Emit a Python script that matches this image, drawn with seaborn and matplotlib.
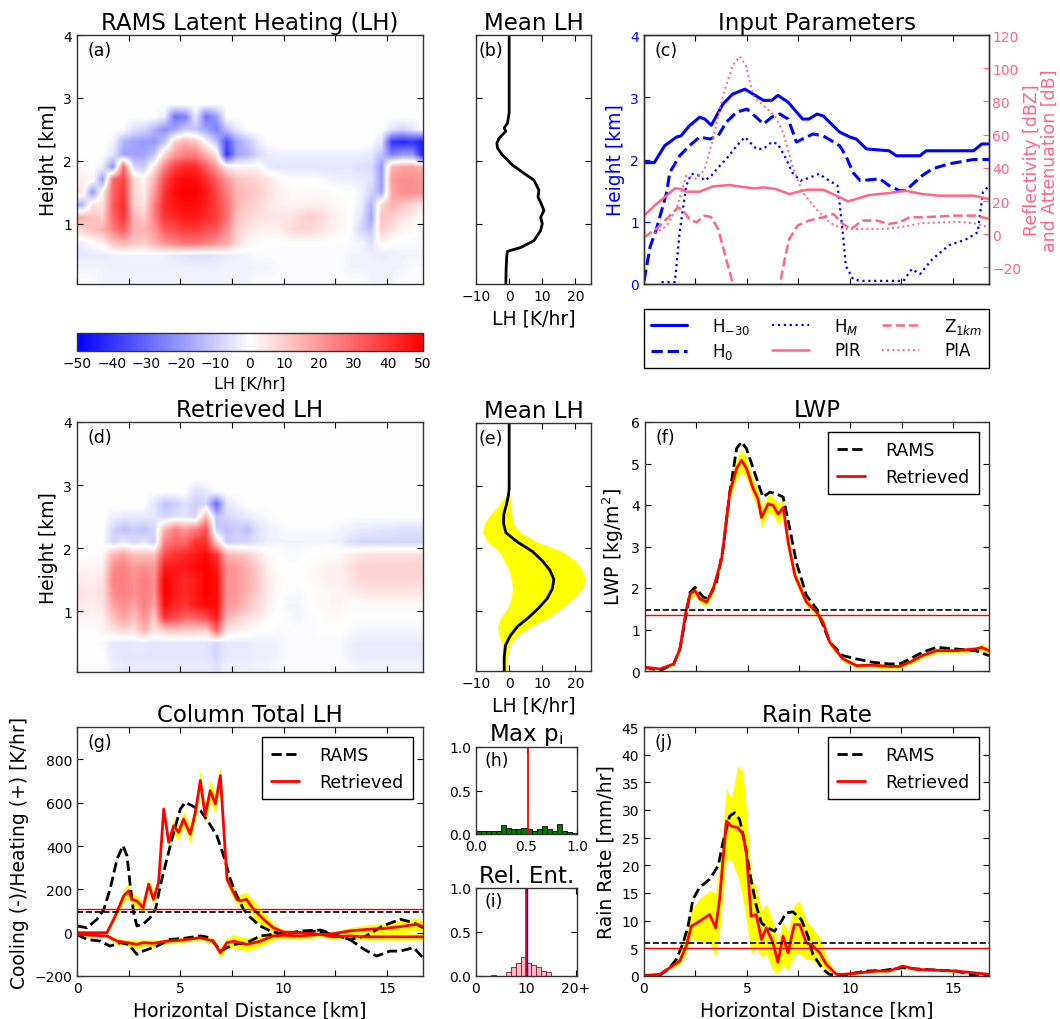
import numpy as np
import matplotlib
matplotlib.use("Agg")
import matplotlib.pyplot as plt
import seaborn as sns

# ---------------- data ----------------
X_MAX = 16.75
# latent heating fields [K/hr]; rows = 0.2 km layers from 0 km up to 3 km, columns = 0.5 km bins
lh_rams_rows = [
    [-1,-1,-2,-2,-2,-2,-2,-2,-2,-2, -2,-2,-2,-2,-2,-2,-2,-1,-1,-1, -1,-1,-1,-1,-1,-1,-1,-1,-2,-2, -2,-1,-1,-1],
    [-2,-2,-2,-3,-3,-3,-3,-3,-3,-3, -3,-3,-3,-3,-2,-2,-2,-2,-2,-1, -1,-1,-1,-1,-1,-1,-2,-2,-2,-2, -2,-2,-1,-1],
    [-4,-4,-4,-3,-3,-2,-2,-2,-3,-4, -5,-6,-6,-5,-4,-3,-2,-1,-1,-1, -1,-1,-1,-1,-1,-1,-2,-2,-3,-4, -3,-2,-2,-2],
    [-3,0,3,12,15,12,10,15,22,25, 28,28,25,22,18,8,2,1,0,0, 0,0,0,0,0,0,-1,-2,-6,2, 0,-1,-1,-1],
    [8,12,15,25,32,15,15,20,32,35, 38,38,35,32,22,10,5,3,3,3, 6,8,8,6,3,2,0,-8,-12,10, 5,2,1,0],
    [15,12,10,30,40,15,10,25,40,42, 45,45,42,38,28,12,8,6,5,5, 5,8,10,8,4,2,0,-5,-18,12, 10,5,3,0],
    [-15,5,5,32,42,10,5,25,42,46, 48,48,44,38,28,15,10,8,5,3, 2,2,3,3,2,1,0,-3,-15,8, 15,12,8,4],
    [5,-20,3,30,40,8,3,20,40,48, 50,50,45,36,25,15,12,10,6,3, 2,1,1,1,1,0,0,-2,-8,-18, 18,22,22,20],
    [3,2,-20,30,38,8,2,15,36,46, 48,48,42,32,20,12,10,8,5,2, 0,0,0,-1,-2,-3,-3,-4,-5,-20, 20,22,22,20],
    [2,0,-3,-22,30,-8,-10,5,25,38, 42,42,32,20,5,2,2,2,-4,-5, -5,-5,-5,-5,-5,-5,-5,-6,-7,-20, 15,18,18,15],
    [0,0,0,-5,-18,-18,-18,-12,8,20, 25,25,15,5,-40,-18,-15,-8,-4,-3, -3,-3,-3,-3,-3,-3,-3,-3,-4,-12, -25,-20,-20,-45],
    [0,0,0,-2,-15,-18,-20,-20,-12,10, 15,12,0,-12,-35,-18,-12,-4,0,0, 0,0,0,0,0,0,0,0,0,-5, -40,-42,-40,-45],
    [0,0,0,0,0,-6,-8,-15,-22,-18, -10,-12,-18,-25,-12,-4,0,0,0,0, 0,0,0,0,0,0,0,0,0,0, -5,-8,-5,0],
    [0,0,0,0,0,0,0,0,-4,-28, -25,-4,-28,-20,0,0,0,0,0,0, 0,0,0,0,0,0,0,0,0,0, 0,0,0,0],
    [0,0,0,0,0,0,0,0,0,0, 0,0,0,0,0,0,0,0,0,0, 0,0,0,0,0,0,0,0,0,0, 0,0,0,0],
]
lh_ret_rows = [
    [0,0,0,-3,-4,-4,-4,-4,-4,-4, -4,-4,-4,-6,-3,-3,-3,-2,-2,-1, -1,-1,-1,-1,-1,-1,-1,-2,-2,-2, -2,-2,-2,-2],
    [0,0,0,-4,-5,-5,-5,-5,-5,-5, -5,-5,-5,-8,-4,-4,-4,-3,-3,-2, -1,-1,-1,-1,-1,-1,-3,-4,-4,-4, -4,-4,-4,-4],
    [0,0,-1,-4,-5,-4,-4,-5,-5,-5, -5,-5,-5,-8,-4,-4,-4,-3,-3,-2, -1,-1,-1,-1,-1,-1,-3,-4,-4,-4, -4,-4,-4,-4],
    [0,0,2,5,8,6,15,5,10,12, 10,10,8,30,5,3,2,0,0,-1, -1,-1,-1,0,0,0,-1,-2,-2,-2, -2,-2,-2,-2],
    [2,2,3,12,18,12,22,10,40,35, 30,30,35,45,15,10,6,4,1,0, -1,-2,-1,0,1,1,0,0,0,0, 0,0,0,0],
    [4,3,5,18,22,18,25,18,48,42, 40,45,48,48,20,18,12,8,3,0, -2,-2,0,1,2,2,1,1,1,1, 1,1,1,1],
    [5,4,6,22,25,22,25,22,50,45, 42,45,50,48,22,20,15,10,4,1, -1,-1,0,1,2,2,3,4,5,5, 5,5,5,5],
    [4,3,5,25,25,22,25,22,50,45, 42,45,50,48,22,20,16,10,4,1, 0,0,1,2,3,3,5,8,8,8, 8,8,8,8],
    [2,2,3,22,25,20,22,20,45,45, 45,48,50,45,22,20,15,10,3,0, 0,0,1,2,3,3,6,9,9,9, 9,9,9,9],
    [0,0,1,15,18,12,12,12,35,40, 42,45,48,40,15,12,10,5,1,0, -1,-1,0,0,1,1,3,5,6,6, 6,6,6,6],
    [0,0,0,-8,-5,-8,-5,-10,25,30, 30,40,40,10,-10,-8,-8,-5,-3,-2, -2,-2,-2,-2,-2,-3,-6,-8,-8,-8, -8,-8,-8,-8],
    [0,0,0,-8,-12,-10,-12,-8,15,25, 20,25,35,-10,-12,-10,-12,-6,-3,-2, -1,-1,-1,-1,-1,-2,-3,-4,-4,-5, -5,-6,-6,-6],
    [0,0,0,-3,-4,-4,-4,-5,-8,-6, -5,-8,15,-12,-8,-6,-4,-2,-1,0, 0,0,0,0,0,0,0,0,0,0, 0,0,0,0],
    [0,0,0,0,0,0,0,-5,-12,-10, -6,-10,-8,-30,-5,-2,0,0,0,0, 0,0,0,0,0,0,0,0,0,0, 0,0,0,0],
    [0,0,0,0,0,0,0,0,0,0, 0,-6,-4,0,0,0,0,0,0,0, 0,0,0,0,0,0,0,0,0,0, 0,0,0,0],
]

# (b) mean RAMS LH profile
mean_b_h = [0.03, 0.30, 0.49, 0.56, 0.62, 0.73, 0.89, 1.0, 1.1, 1.21, 1.34, 1.42, 1.53, 1.69, 1.8,
            1.93, 2.09, 2.2, 2.28, 2.36, 2.47, 2.52, 2.6, 2.76, 4.0]
mean_b_v = [-1.0, -0.9, -0.7, -0.5, 3.5, 7.5, 9.5, 10.0, 9.5, 10.5, 9.5, 8.7, 9.0, 7.5, 4.5,
            1.0, -2.0, -3.5, -3.7, -3.0, -1.0, -1.5, -0.5, 0.0, 0.0]

# (e) mean retrieved LH profile with spread
mean_e_h = [0.05, 0.25, 0.45, 0.6, 0.75, 0.9, 1.05, 1.2, 1.35, 1.5, 1.65, 1.8, 1.95, 2.1, 2.25,
            2.4, 2.55, 2.7, 2.85, 2.95, 4.0]
mean_e_v = [-1.5, -1.5, -1.1, 0.3, 2.5, 6, 9, 11.5, 13, 13.5, 12.3, 10, 7, 2.5, -1.0,
            -1.7, -1.6, -0.8, -0.2, 0, 0]
mean_e_lo = [-2, -2, -2, -3, -3.5, -2.5, -0.3, 0.6, 1, 0.7, 0, -1.5, -3, -6.5, -8,
             -7.5, -5.5, -3, -0.8, 0, 0]
mean_e_hi = [-0.5, -0.5, 0, 2.5, 6.5, 12, 16, 19.5, 22, 23, 22, 20, 16, 8.5, 3.5,
             1.2, 0.8, 0.5, 0.2, 0, 0]

# (c) input parameters
h30_x = [0, 0.5, 1.0, 1.57, 1.8, 2.2, 2.7, 2.95, 3.27, 3.83, 4.3, 4.9, 5.3, 5.8, 6.2, 6.5, 7.0, 7.7, 8.0,
         8.4, 8.7, 9.5, 10.0, 10.3, 10.8, 11.9, 12.25, 13.4, 13.7, 16.0, 16.4, 16.75]
h30_y = [1.95, 1.95, 2.22, 2.36, 2.38, 2.54, 2.68, 2.65, 2.55, 2.89, 3.05, 3.13, 3.05, 2.95, 2.95, 3.03,
         2.92, 2.65, 2.65, 2.73, 2.70, 2.44, 2.36, 2.33, 2.17, 2.14, 2.06, 2.06, 2.14, 2.14, 2.25, 2.25]
h0_x = [0, 0.3, 0.6, 1.1, 1.25, 1.73, 2.2, 2.7, 3.2, 3.6, 4.0, 4.5, 5.0, 5.45, 5.8, 6.2, 6.6, 7.0, 7.4,
        7.7, 8.2, 8.7, 9.5, 9.8, 10.15, 10.5, 11.45, 11.9, 12.4, 12.7, 13.5, 14.0, 14.8, 16.0, 16.75]
h0_y = [0.05, 0.6, 0.88, 1.47, 1.79, 2.06, 2.22, 2.36, 2.33, 2.38, 2.6, 2.76, 2.81, 2.68, 2.57, 2.68, 2.73,
        2.65, 2.28, 2.33, 2.41, 2.38, 2.22, 2.06, 1.79, 1.66, 1.69, 1.58, 1.5, 1.5, 1.74, 1.85, 1.93, 2.0, 2.0]
hm_x = [0.85, 1.5, 1.73, 2.05, 2.3, 2.7, 2.95, 3.27, 3.6, 4.0, 4.5, 4.9, 5.45, 5.8, 6.2, 6.5, 6.9, 7.2,
        7.6, 7.9, 8.5, 8.85, 9.4, 9.65, 9.8, 10.15, 10.5, 12.6, 13.0, 13.4, 14.0, 14.8, 15.65, 16.2, 16.45, 16.75]
hm_y = [0.03, 0.03, 0.83, 1.58, 1.77, 1.74, 1.66, 1.74, 1.87, 2.01, 2.22, 2.36, 2.17, 2.17, 2.28, 2.25,
        2.01, 1.79, 1.66, 1.69, 1.77, 1.69, 1.58, 0.83, 0.29, 0.08, 0.05, 0.05, 0.24, 0.16, 0.4, 0.62,
        0.72, 0.83, 1.47, 1.58]
pir_x = [0, 0.6, 1.1, 1.5, 1.8, 2.05, 2.7, 3.35, 4.15, 5.3, 5.8, 6.4, 7.05, 7.9, 8.7, 9.35, 9.9, 10.3,
         10.95, 11.9, 12.7, 13.5, 14.35, 16.0, 16.75]
pir_y = [11.2, 18.2, 23.2, 27.6, 27.2, 25.6, 25.6, 28.8, 29.6, 27.6, 28.2, 27.2, 24.2, 26.8, 26.8, 23.2,
         19.8, 21.2, 23.6, 24.8, 26.2, 24.2, 23.2, 23.2, 21.2]
z1_x = [0, 0.6, 1.1, 1.65, 1.9, 2.2, 2.55, 2.95, 3.27, 3.6, 3.9, 4.25, 4.6, 6.3, 6.6, 6.8, 7.05, 7.45,
        8.0, 8.7, 9.2, 9.65, 10.05, 10.6, 11.3, 11.9, 12.4, 12.9, 13.5, 15.15, 16.1, 16.75]
z1_y = [-1.9, 3.1, 9.2, 16.2, 14.2, 9.2, 7.1, 11.2, 10.2, 3.1, -10.9, -27.0, -50, -50, -30, -17, -2.9,
        5.1, 8.2, 10.2, 12.2, 6.2, 3.1, 8.2, 8.2, 6.2, 7.2, 10.2, 10.2, 11.2, 11.2, 9.2]
pia_x = [0, 0.6, 1.1, 1.57, 2.05, 2.55, 2.95, 3.35, 3.83, 4.3, 4.65, 4.95, 5.3, 5.8, 6.35, 6.75, 7.25,
         7.7, 8.35, 9.0, 9.65, 10.8, 11.6, 12.4, 13.5, 15.15, 16.0, 16.75]
pia_y = [1.0, 1.0, 5.1, 15.2, 35.3, 33.3, 39.3, 57.3, 83.5, 101.5, 107.1, 101.5, 83.5, 77.4, 71.4, 61.4,
         39.3, 25.2, 15.2, 7.1, 3.1, 3.1, 3.1, 4.1, 6.7, 7.5, 6.7, 4.1]

# (f) LWP [kg/m2]
lwp_rams_x = [0, 0.73, 1.4, 1.7, 2.2, 2.43, 2.84, 3.08, 3.48, 3.8, 4.13, 4.46, 4.7, 4.94, 5.27, 5.6, 5.75,
              6.08, 6.4, 6.73, 7.05, 7.37, 7.86, 8.35, 9.0, 9.64, 10.3, 11.1, 11.9, 12.4, 12.9, 13.5,
              14.2, 15.15, 16.1, 16.75]
lwp_rams = [0.09, 0.01, 0.17, 0.53, 1.9, 2.02, 1.78, 1.74, 2.14, 2.94, 4.31, 5.36, 5.52, 5.36, 4.88, 4.39,
            4.19, 4.31, 4.27, 4.19, 3.43, 2.62, 1.82, 1.5, 0.69, 0.37, 0.29, 0.21, 0.17, 0.17, 0.29, 0.45,
            0.57, 0.53, 0.49, 0.37]
lwp_ret_x = [0, 0.73, 1.4, 1.7, 2.0, 2.2, 2.43, 2.67, 3.0, 3.32, 3.73, 4.13, 4.46, 4.7, 4.94, 5.27, 5.5,
             5.67, 6.0, 6.24, 6.48, 6.73, 6.97, 7.3, 7.86, 8.35, 8.67, 9.0, 9.64, 10.3, 11.1, 11.9, 12.4,
             13.05, 13.5, 14.2, 15.15, 16.1, 16.4, 16.75]
lwp_ret = [0.09, 0.05, 0.17, 0.53, 1.46, 1.86, 1.94, 1.74, 1.66, 1.98, 2.7, 4.31, 4.88, 5.08, 4.88, 4.39,
           4.15, 3.7, 4.03, 3.99, 3.78, 3.94, 3.1, 2.3, 1.66, 1.42, 1.17, 0.69, 0.29, 0.13, 0.14, 0.11,
           0.11, 0.25, 0.37, 0.49, 0.49, 0.53, 0.57, 0.49]
lwp_spread = [0.03, 0.03, 0.04, 0.06, 0.1, 0.1, 0.12, 0.1, 0.1, 0.12, 0.15, 0.2, 0.25, 0.28, 0.25, 0.22,
              0.25, 0.25, 0.22, 0.22, 0.25, 0.22, 0.2, 0.15, 0.1, 0.1, 0.1, 0.08, 0.06, 0.06, 0.06, 0.06,
              0.06, 0.06, 0.06, 0.06, 0.06, 0.06, 0.08, 0.08]
lwp_mean_rams, lwp_mean_ret = 1.47, 1.35

# (g) column total LH [K/hr]
g_rams_pos_x = [0, 0.48, 0.97, 1.3, 1.6, 1.94, 2.23, 2.42, 2.58, 2.74, 2.9, 3.2, 3.55, 3.8, 4.03, 4.35,
                4.68, 5.0, 5.24, 5.56, 5.97, 6.37, 6.77, 7.1, 7.42, 7.74, 8.06, 8.4, 8.87, 9.35, 10.0,
                10.8, 11.8, 12.4, 13.2, 14.0, 14.8, 15.65, 16.3, 16.75]
g_rams_pos = [31, 23, 62, 108, 201, 340, 402, 355, 216, 93, 31, 39, 70, 108, 216, 340, 463, 571, 602, 587,
              564, 510, 448, 355, 247, 170, 108, 70, 31, 8, -8, 8, 12, -8, -31, -15, 31, 62, 46, 23]
g_ret_pos_x = [0, 1.45, 1.85, 2.26, 2.5, 2.66, 2.9, 3.2, 3.47, 3.7, 3.95, 4.2, 4.44, 4.68, 4.92, 5.16,
               5.48, 5.73, 5.97, 6.2, 6.45, 6.7, 6.94, 7.26, 7.74, 7.9, 8.2, 8.55, 9.03, 9.5, 10.0, 10.8,
               11.8, 12.4, 13.2, 14.0, 14.8, 15.65, 16.45, 16.75]
g_ret_pos = [0, 0, 77, 170, 193, 154, 147, 116, 224, 154, 232, 571, 417, 494, 463, 525, 455, 556, 703, 541,
             656, 595, 726, 247, 154, 147, 154, 108, 62, 23, 3, 0, -8, -5, 8, 15, 19, 28, 39, 28]
g_ret_pos_spread = [5, 5, 15, 30, 35, 30, 25, 25, 30, 30, 30, 20, 25, 40, 35, 35, 40, 40, 50, 40,
                    50, 45, 40, 30, 25, 30, 35, 40, 35, 20, 10, 10, 10, 10, 15, 20, 25, 30, 30, 25]
g_rams_neg_x = [0, 0.48, 1.13, 1.6, 2.1, 2.5, 2.9, 3.2, 3.87, 4.5, 5.16, 5.97, 6.45, 6.94, 7.58, 8.23,
                8.87, 9.5, 10.0, 10.8, 11.6, 12.4, 13.2, 13.9, 14.5, 15.15, 15.65, 16.3, 16.75]
g_rams_neg = [-8, -31, -39, -62, -46, -54, -100, -85, -62, -31, -26, -15, -23, -85, -54, -46, -15, -8, 0,
              0, 8, -8, -31, -77, -108, -85, -85, -69, -116]
g_ret_neg_x = [0, 1.45, 1.94, 2.42, 2.9, 3.2, 3.7, 4.35, 5.0, 5.97, 6.6, 6.94, 7.26, 7.58, 8.23, 8.87,
               9.5, 10.0, 10.8, 11.8, 12.4, 13.2, 14.0, 15.65, 16.75]
g_ret_neg = [-8, -15, -39, -46, -54, -46, -49, -39, -35, -23, -39, -93, -46, -39, -54, -39, -15, -12, -15,
             -8, -19, -15, -19, -19, -19]
g_ret_neg_spread = [5, 8, 15, 15, 20, 15, 15, 12, 12, 10, 15, 20, 25, 30, 30, 25, 20, 15, 15, 12,
                    12, 15, 15, 15, 15]
g_mean_rams, g_mean_ret = 96, 108

# (h) histogram of max p_i
maxp_edges = [i * 0.05 for i in range(21)]
maxp_freq = [0.03, 0.03, 0.03, 0.04, 0.04, 0.10, 0.07, 0.06, 0.06, 0.065, 0.06, 0.04, 0.06, 0.09, 0.06,
             0.04, 0.12, 0.04, 0.02, 0.01]
maxp_mean = 0.515

# (i) histogram of relative entropy
relent_edges = list(range(21))
relent_freq = [0.005, 0.005, 0, 0.015, 0, 0, 0.04, 0.1, 0.15, 0.22, 0.15, 0.13, 0.1, 0.06, 0.04, 0.005,
               0, 0, 0, 0]
relent_mean_a, relent_mean_b = 10.0, 10.2

# (j) rain rate [mm/hr]
rr_rams_x = [0, 0.6, 0.84, 1.25, 1.57, 1.9, 2.14, 2.38, 2.7, 3.19, 3.6, 3.83, 4.16, 4.4, 4.64, 4.89,
             5.13, 5.45, 5.7, 6.0, 6.34, 6.67, 6.9, 7.23, 7.64, 7.96, 8.2, 8.69, 9.0, 9.66, 10.3, 10.8,
             11.6, 12.57, 13.5, 15.15, 16.1, 16.75]
rr_rams = [0.1, 0.1, 0.3, 1.5, 3.0, 6.0, 9.0, 13.9, 16.0, 17.5, 19.9, 24.1, 28.9, 29.5, 28.3, 24.1, 18.7,
           12.7, 9.6, 8.7, 8.1, 9.9, 11.4, 11.6, 10.2, 7.2, 3.9, 1.2, 0.3, 0.1, 0.6, 0.9, 1.0, 1.5, 1.2,
           0.9, 0.05, 0.0]
rr_ret_x = [0, 0.76, 1.25, 1.73, 2.05, 2.3, 2.7, 3.19, 3.48, 3.67, 4.0, 4.24, 4.56, 4.8, 4.97, 5.2, 5.45,
            5.7, 5.94, 6.26, 6.5, 6.75, 6.99, 7.3, 7.56, 7.88, 8.12, 8.53, 8.85, 9.34, 9.66, 10.3, 11.28,
            11.9, 12.57, 13.2, 15.15, 16.75]
rr_ret = [0.1, 0.3, 1.5, 2.7, 5.4, 9.0, 9.9, 11.1, 8.7, 13.9, 28.0, 27.1, 26.8, 25.6, 22.3, 10.8, 11.1,
          6.6, 8.7, 6.0, 2.5, 7.2, 4.2, 9.3, 9.3, 6.0, 5.7, 4.2, 2.1, 0.3, 0.3, 0.5, 0.9, 0.9, 1.8, 1.2,
          0.9, 0.3]
rr_ret_lo = [0.05, 0.2, 1.2, 2.0, 4.0, 7.0, 6.0, 6.0, 3.5, 8.0, 21.0, 21.0, 18.0, 14.0, 10.0, 4.0, 5.0,
             3.5, 4.0, 1.0, 0.5, 2.0, 1.0, 4.0, 4.0, 3.0, 3.0, 2.0, 1.0, 0.2, 0.2, 0.3, 0.7, 0.7, 1.5,
             1.0, 0.7, 0.2]
rr_ret_hi = [0.2, 0.4, 1.8, 3.5, 8.0, 12.0, 14.0, 15.5, 15.0, 20.0, 34.0, 32.0, 38.0, 37.0, 30.0, 18.0,
             16.0, 12.0, 13.0, 10.0, 6.0, 10.0, 8.0, 13.0, 13.5, 10.0, 9.0, 7.0, 3.5, 0.5, 0.5, 0.7, 1.1,
             1.1, 2.1, 1.4, 1.1, 0.4]
rr_mean_rams, rr_mean_ret = 6.05, 5.05

# ---------------- style ----------------
sns.set_style("ticks")
plt.rcParams.update({
    "font.family": ["DejaVu Sans"],
    "xtick.direction": "in", "ytick.direction": "in",
    "xtick.top": True, "ytick.right": True,
    "xtick.major.size": 4.5, "ytick.major.size": 4.5,
    "xtick.labelsize": 10, "ytick.labelsize": 10,
    "xtick.color": "black", "ytick.color": "black",
    "axes.edgecolor": "#333333", "axes.linewidth": 1.0,
    "axes.labelcolor": "black", "text.color": "black",
    "axes.labelsize": 13.5, "axes.titlesize": 16.5,
    "legend.fontsize": 12,
})

BLUE = "#0000ff"
PINK = "#ff6688"
W, H = 1060, 1020
fig = plt.figure(figsize=(W / 100, H / 100), dpi=100)


def add_ax(x0, y0, x1, y1):
    return fig.add_axes([x0 / W, 1 - y1 / H, (x1 - x0) / W, (y1 - y0) / H])


def line(ax, x, y, **kw):
    sns.lineplot(x=np.asarray(x, float), y=np.asarray(y, float), ax=ax, sort=False,
                 estimator=None, legend=False, **kw)


def panel_label(ax, s, x=0.03, y=0.975):
    ax.text(x, y, s, transform=ax.transAxes, ha="left", va="top", fontsize=12.5)


def dist_xaxis(ax, labels=False):
    ticks = np.arange(0, 17, 2.5)
    ax.set_xticks(ticks)
    if labels:
        ax.set_xticklabels(["0", "", "5", "", "10", "", "15"])
        ax.set_xlabel("Horizontal Distance [km]")
    else:
        ax.set_xticklabels([])
    ax.set_xlim(0, X_MAX)


def field(ax, rows, title, lab):
    grid = np.array(rows + [[0] * 34] * 5, float)
    im = ax.imshow(grid, cmap="bwr", vmin=-50, vmax=50, origin="lower",
                   extent=[0, 17, 0, 4], aspect="auto", interpolation="bilinear")
    dist_xaxis(ax)
    ax.set_ylim(0.04, 4)
    ax.set_yticks([1, 2, 3, 4])
    ax.set_ylabel("Height [km]")
    ax.set_title(title, pad=4)
    panel_label(ax, lab)
    return im


# (a)
ax_a = add_ax(77, 36, 423, 285)
im = field(ax_a, lh_rams_rows, "RAMS Latent Heating (LH)", "(a)")
cax = add_ax(77, 334, 423, 352)
cb = fig.colorbar(im, cax=cax, orientation="horizontal", ticks=list(range(-50, 51, 10)))
cax.tick_params(direction="in", top=True, bottom=True, length=4, labelsize=10)
cb.outline.set_linewidth(1.0)
cb.set_label("LH [K/hr]", fontsize=11.5)

# (d)
ax_d = add_ax(77, 423, 423, 673)
field(ax_d, lh_ret_rows, "Retrieved LH", "(d)")


def profile_axes(ax, lab):
    ax.set_xlim(-10, 24.7)
    ax.set_xticks([-10, 0, 10, 20])
    ax.set_ylim(0.04, 4)
    ax.set_yticks([1, 2, 3, 4])
    ax.set_yticklabels([])
    ax.set_xlabel("LH [K/hr]")
    ax.set_title("Mean LH", pad=4)
    panel_label(ax, lab, x=0.02)


# (b)
ax_b = add_ax(476, 36, 591, 285)
line(ax_b, mean_b_v, mean_b_h, color="black", lw=2)
profile_axes(ax_b, "(b)")

# (e)
ax_e = add_ax(476, 424, 591, 672)
ax_e.fill_betweenx(mean_e_h, mean_e_lo, mean_e_hi, color="#ffff00", lw=0)
line(ax_e, mean_e_v, mean_e_h, color="black", lw=2)
profile_axes(ax_e, "(e)")

# (c)
ax_c = add_ax(644, 36, 989, 285)
ax_c2 = ax_c.twinx()
line(ax_c, h30_x, h30_y, color=BLUE, lw=2.2, label="H$_{-30}$")
line(ax_c, h0_x, h0_y, color=BLUE, lw=2.2, linestyle="--", label="H$_0$")
line(ax_c, hm_x, hm_y, color=BLUE, lw=1.6, linestyle=":", label="H$_M$")
line(ax_c2, pir_x, pir_y, color=PINK, lw=1.8, label="PIR")
line(ax_c2, z1_x, z1_y, color=PINK, lw=1.8, linestyle="--", label="Z$_{1km}$")
line(ax_c2, pia_x, pia_y, color=PINK, lw=1.4, linestyle=":", label="PIA")
dist_xaxis(ax_c)
ax_c.set_ylim(0, 4)
ax_c.set_yticks([0, 1, 2, 3, 4])
ax_c.tick_params(axis="y", right=False, colors=BLUE, labelcolor=BLUE)
ax_c.set_ylabel("Height [km]", color=BLUE)
ax_c2.set_ylim(-30, 120)
ax_c2.set_yticks(list(range(-20, 121, 20)))
ax_c2.tick_params(axis="y", right=True, left=False, colors=PINK, labelcolor=PINK, labelsize=10,
                  direction="in", length=4.5, pad=2.5)
ax_c2.set_ylabel("Reflectivity [dBZ]\nand Attenuation [dB]", color=PINK, fontsize=12.5,
                 linespacing=0.95, labelpad=1)
ax_c2.set_xlim(0, X_MAX)
ax_c.set_title("Input Parameters", pad=4)
panel_label(ax_c, "(c)")
h1, l1 = ax_c.get_legend_handles_labels()
h2, l2 = ax_c2.get_legend_handles_labels()
hd = dict(zip(l1 + l2, h1 + h2))
order = ["H$_{-30}$", "H$_0$", "H$_M$", "PIR", "Z$_{1km}$", "PIA"]
for a in (ax_c, ax_c2):
    if a.get_legend() is not None:
        a.get_legend().remove()
fig.legend([hd[k] for k in order], order, loc="upper left", ncol=3, mode="expand",
           bbox_to_anchor=(644 / W, 1 - 371 / H, 345 / W, 61 / H), borderaxespad=0,
           frameon=True, fancybox=False, edgecolor="black", framealpha=1, fontsize=12,
           handlelength=2.2, handletextpad=1.5, labelspacing=0.35)


def rams_ret_legend(ax):
    from matplotlib.lines import Line2D
    hs = [Line2D([], [], color="black", ls="--", lw=2), Line2D([], [], color="red", lw=2)]
    ax.legend(hs, ["RAMS", "Retrieved"], loc="upper right", frameon=True, fancybox=False,
              edgecolor="black", framealpha=1, fontsize=12.5, handlelength=1.6,
              handletextpad=1.2, borderaxespad=0.6, borderpad=0.5)


# (f)
ax_f = add_ax(645, 423, 989, 672)
lr = np.asarray(lwp_ret)
ls_ = np.asarray(lwp_spread)
ax_f.fill_between(lwp_ret_x, lr - ls_, lr + ls_, color="#ffff00", lw=0)
line(ax_f, lwp_rams_x, lwp_rams, color="black", lw=2, linestyle="--")
line(ax_f, lwp_ret_x, lwp_ret, color="red", lw=2)
ax_f.axhline(lwp_mean_rams, color="black", ls="--", lw=1.2)
ax_f.axhline(lwp_mean_ret, color="red", lw=1)
dist_xaxis(ax_f)
ax_f.set_ylim(0, 6)
ax_f.set_yticks(range(7))
ax_f.set_ylabel("LWP [kg/m$^2$]")
ax_f.set_title("LWP", pad=4)
panel_label(ax_f, "(f)")
rams_ret_legend(ax_f)

# (g)
ax_g = add_ax(77, 728, 423, 977)
gp = np.asarray(g_ret_pos, float)
gps = np.asarray(g_ret_pos_spread, float)
gn = np.asarray(g_ret_neg, float)
gns = np.asarray(g_ret_neg_spread, float)
ax_g.fill_between(g_ret_pos_x, gp - gps, gp + gps, color="#ffff00", lw=0)
ax_g.fill_between(g_ret_neg_x, gn - gns, gn + gns, color="#ffff00", lw=0)
line(ax_g, g_rams_pos_x, g_rams_pos, color="black", lw=2, linestyle="--")
line(ax_g, g_rams_neg_x, g_rams_neg, color="black", lw=2, linestyle="--")
line(ax_g, g_ret_pos_x, g_ret_pos, color="red", lw=2)
line(ax_g, g_ret_neg_x, g_ret_neg, color="red", lw=2)
ax_g.axhline(g_mean_rams, color="black", ls="--", lw=1.2)
ax_g.axhline(g_mean_ret, color="red", lw=1)
dist_xaxis(ax_g, labels=True)
ax_g.set_ylim(-200, 950)
ax_g.set_yticks(range(-200, 801, 200))
ax_g.set_ylabel("Cooling (-)/Heating (+) [K/hr]")
ax_g.set_title("Column Total LH", pad=4)
panel_label(ax_g, "(g)")
rams_ret_legend(ax_g)

# (j)
ax_j = add_ax(644, 728, 989, 977)
ax_j.fill_between(rr_ret_x, rr_ret_lo, rr_ret_hi, color="#ffff00", lw=0)
line(ax_j, rr_rams_x, rr_rams, color="black", lw=2, linestyle="--")
line(ax_j, rr_ret_x, rr_ret, color="red", lw=2)
ax_j.axhline(rr_mean_rams, color="black", ls="--", lw=1.2)
ax_j.axhline(rr_mean_ret, color="red", lw=1)
dist_xaxis(ax_j, labels=True)
ax_j.set_ylim(0, 45)
ax_j.set_yticks(range(0, 46, 5))
ax_j.set_ylabel("Rain Rate [mm/hr]")
ax_j.set_title("Rain Rate", pad=4)
panel_label(ax_j, "(j)")
rams_ret_legend(ax_j)

# (h)
ax_h = add_ax(476, 748, 577, 835)
mc = (np.asarray(maxp_edges[:-1]) + np.asarray(maxp_edges[1:])) / 2
sns.histplot(x=mc, weights=maxp_freq, bins=maxp_edges, ax=ax_h, color="#007a00",
             edgecolor="black", linewidth=0.6, alpha=1)
ax_h.axvline(maxp_mean, color="red", lw=1.3)
ax_h.set_xlim(0, 1)
ax_h.set_ylim(0, 1)
ax_h.set_xticks([0, 0.5, 1])
ax_h.set_xticklabels(["0.0", "0.5", "1.0"])
ax_h.set_yticks([0, 0.5, 1])
ax_h.set_yticklabels(["0.0", "0.5", "1.0"])
ax_h.set_xlabel("")
ax_h.set_ylabel("")
ax_h.set_title("Max p$_\\mathregular{i}$", pad=4)
panel_label(ax_h, "(h)", x=0.08, y=0.95)

# (i)
ax_i = add_ax(476, 889, 577, 977)
rc = (np.asarray(relent_edges[:-1]) + np.asarray(relent_edges[1:])) / 2
sns.histplot(x=rc, weights=relent_freq, bins=relent_edges, ax=ax_i, color="#ffb6c1",
             edgecolor="#702030", linewidth=0.6, alpha=1)
ax_i.axvline(relent_mean_a, color="red", lw=1.3)
ax_i.axvline(relent_mean_b, color="blue", lw=1)
ax_i.set_xlim(0, 20.2)
ax_i.set_ylim(0, 1)
ax_i.set_xticks([0, 10, 20])
ax_i.set_xticklabels(["0", "10", "20+"])
ax_i.set_yticks([0, 0.5, 1])
ax_i.set_yticklabels(["0.0", "0.5", "1.0"])
ax_i.set_xlabel("")
ax_i.set_ylabel("")
ax_i.set_title("Rel. Ent.", pad=4)
panel_label(ax_i, "(i)", x=0.08, y=0.95)

fig.savefig("out.png", dpi=100)
